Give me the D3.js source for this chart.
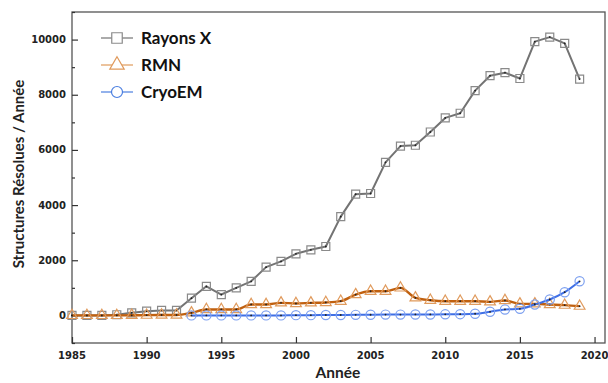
<!DOCTYPE html>
<html><head><meta charset="utf-8">
<script src="https://cdn.jsdelivr.net/npm/d3@7"></script>
<style>body{margin:0;background:#fff}svg{display:block}</style>
</head><body>
<svg id="c" width="608" height="383"></svg>
<script>
const years = d3.range(1985, 2020);
const xrayValues = [0,0,0,25,95,155,180,180,625,1056,757,998,1237,1750,1957,2234,2378,2498,3580,4396,4420,5550,6140,6170,6650,7160,7330,8150,8690,8800,8590,9925,10090,9860,8570];
const nmrValues = [0,0,0,0,5,10,15,15,95,216,216,216,396,396,456,432,456,470,516,757,876,876,998,638,552,516,516,516,492,540,420,420,396,372,336];
const cryoYears = d3.range(1993, 2020);
const cryoValues = [0,0,0,0,0,0,0,10,10,15,15,20,25,30,30,35,35,40,45,60,132,216,240,396,577,841,1237];
const yTicks = [0,2000,4000,6000,8000,10000];
const xTicks = [1985,1990,1995,2000,2005,2010,2015,2020];
const seriesNames = ["Rayons X","RMN","CryoEM"];

const svg = d3.select("#c");
const L=72, R=605, T=12, B=343;
const x = d3.scaleLinear().domain([1985, 2020.7]).range([L, R]);
const y = d3.scaleLinear().domain([-1000, 11000]).range([B, T]);

// frame
svg.append("rect").attr("x",L).attr("y",T).attr("width",R-L).attr("height",B-T)
  .attr("fill","none").attr("stroke","#555").attr("stroke-width",1.3);

const tickFont = "'DejaVu Sans', Verdana, sans-serif";
// y axis
const yAxis = svg.append("g").attr("transform",`translate(${L},0)`)
  .call(d3.axisRight(y).tickValues(d3.range(-1000, 11001, 1000)).tickSize(0).tickFormat(""));
yAxis.select(".domain").remove();
yAxis.selectAll(".tick line").attr("x2", d => yTicks.includes(d) ? 6 : 3).attr("stroke","#333").attr("stroke-width",1.2);
svg.append("g").selectAll("text").data(yTicks).join("text")
  .attr("x", L-6).attr("y", d=>y(d)).attr("dy","0.35em").attr("text-anchor","end")
  .attr("font-family",tickFont).attr("font-weight","bold").attr("font-size",10).attr("fill","#222")
  .text(d=>d);
// x axis
const xAxis = svg.append("g").attr("transform",`translate(0,${B})`)
  .call(d3.axisTop(x).tickValues(xTicks).tickSize(6).tickFormat(""));
xAxis.select(".domain").remove();
xAxis.selectAll(".tick line").attr("stroke","#333").attr("stroke-width",1.2);
svg.append("g").selectAll("text").data(xTicks).join("text")
  .attr("x", d=>x(d)).attr("y", B+16).attr("text-anchor","middle")
  .attr("font-family",tickFont).attr("font-weight","bold").attr("font-size",10).attr("fill","#222")
  .text(d=>d);

const titleFont = "Lato, 'Open Sans', sans-serif";
svg.append("text").attr("transform",`translate(24,174) rotate(-90)`)
  .attr("text-anchor","middle").attr("font-family",titleFont).attr("font-weight","bold")
  .attr("font-size",15).attr("fill","#222").text("Structures Résolues / Année");
svg.append("text").attr("x",338).attr("y",378).attr("text-anchor","middle")
  .attr("font-family",titleFont).attr("font-weight","bold").attr("font-size",15.5).attr("fill","#222").text("Année");

// series
const xrayData = years.map((yr,i)=>({x:yr, v:xrayValues[i]}));
const nmrData = years.map((yr,i)=>({x:yr, v:nmrValues[i]}));
const cryoData = cryoYears.map((yr,i)=>({x:yr, v:cryoValues[i]}));

const lineLin = d3.line().x(d=>x(d.x)).y(d=>y(d.v));
const lineSmooth = d3.line().x(d=>x(d.x)).y(d=>y(d.v)).curve(d3.curveMonotoneX);

const sq = d3.symbol().type(d3.symbolSquare).size(64);
const tri = d3.symbol().type(d3.symbolTriangle).size(50);

function drawSeries(data, line, lineColor, lw, markerPath, markerColor, circle){
  svg.append("path").datum(data).attr("d", line).attr("fill","none")
    .attr("stroke", lineColor).attr("stroke-width", lw).attr("stroke-linejoin","round");
  const g = svg.append("g");
  data.forEach(d=>{
    if(circle){
      g.append("circle").attr("cx",x(d.x)).attr("cy",y(d.v)).attr("r",4.6)
        .attr("fill","none").attr("stroke",markerColor).attr("stroke-width",1.2);
    } else {
      g.append("path").attr("d", markerPath).attr("transform",`translate(${x(d.x)},${y(d.v)})`)
        .attr("fill","none").attr("stroke",markerColor).attr("stroke-width",1.2);
    }
    g.append("circle").attr("cx",x(d.x)).attr("cy",y(d.v)).attr("r",0.9).attr("fill","#222");
  });
}
drawSeries(xrayData, lineLin, "#737373", 2, sq(), "#8a8a8a", false);
drawSeries(nmrData, lineSmooth, "#c0600f", 2.4, tri(), "#e09a5c", false);
drawSeries(cryoData, lineSmooth, "#3f6fe6", 2, null, "#7da0f0", true);

// legend
const legend = [
  {name:seriesNames[0], line:"#737373", mk:"#8a8a8a", type:"sq"},
  {name:seriesNames[1], line:"#e09a5c", mk:"#e09a5c", type:"tri"},
  {name:seriesNames[2], line:"#4a7ee0", mk:"#4a7ee0", type:"circ"}
];
legend.forEach((l,i)=>{
  const ly = 38 + i*27;
  svg.append("line").attr("x1",101).attr("x2",133).attr("y1",ly).attr("y2",ly).attr("stroke",l.line).attr("stroke-width",1.2);
  if(l.type==="sq") svg.append("path").attr("d", d3.symbol().type(d3.symbolSquare).size(110)()).attr("transform",`translate(117,${ly})`).attr("fill","#fff").attr("stroke",l.mk).attr("stroke-width",1.2);
  if(l.type==="tri") svg.append("path").attr("d", d3.symbol().type(d3.symbolTriangle).size(90)()).attr("transform",`translate(117,${ly})`).attr("fill","#fff").attr("stroke",l.mk).attr("stroke-width",1.2);
  if(l.type==="circ") svg.append("circle").attr("cx",117).attr("cy",ly).attr("r",5.5).attr("fill","#fff").attr("stroke",l.mk).attr("stroke-width",1.2);
  svg.append("text").attr("x",141).attr("y",ly).attr("dy","0.35em")
    .attr("font-family",titleFont).attr("font-weight","bold").attr("font-size",17).attr("fill","#111").text(l.name);
});
</script>
</body></html>
